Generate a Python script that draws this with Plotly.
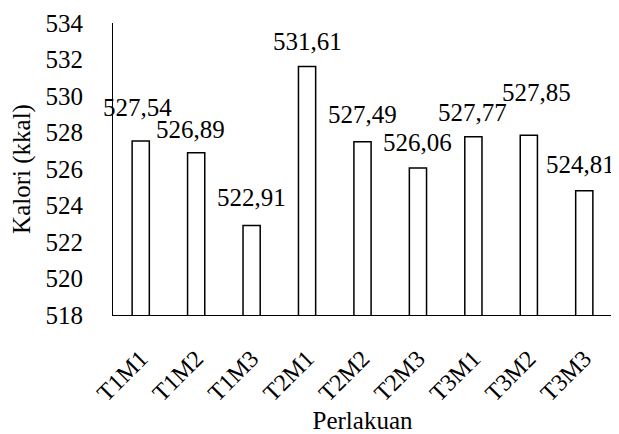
import plotly.graph_objects as go

categories = ["T1M1", "T1M2", "T1M3", "T2M1", "T2M2", "T2M3", "T3M1", "T3M2", "T3M3"]
values = [527.54, 526.89, 522.91, 531.61, 527.49, 526.06, 527.77, 527.85, 524.81]
labels = ["527,54", "526,89", "522,91", "531,61", "527,49", "526,06", "527,77", "527,85", "524,81"]
y_ticks = [518, 520, 522, 524, 526, 528, 530, 532, 534]

# label offsets (style only, in pixels)
label_dx = [-3, -6, 0, 0, 0, 0, -1, 8, -4]
label_dy = [33, 23, 28, 25, 27, 25, 24, 43, 26]

FONT = "Liberation Serif"

fig = go.Figure()
fig.add_trace(go.Bar(
    x=categories, y=values,
    width=0.31,
    marker=dict(color="white", line=dict(color="black", width=1.5)),
))

for c, v, t, dx, dy in zip(categories, values, labels, label_dx, label_dy):
    fig.add_annotation(x=c, y=v, text=t, showarrow=False, xshift=dx, yshift=dy,
                       font=dict(family=FONT, size=25, color="black"))

# page body has an 8px default margin, so the figure is sized/offset to compensate
fig.update_layout(
    width=611, height=426,
    margin=dict(l=105, r=7, t=15, b=119),
    plot_bgcolor="white", paper_bgcolor="white",
    showlegend=False,
    font=dict(family=FONT, size=25, color="black"),
)
fig.update_yaxes(
    range=[518, 534], tickvals=y_ticks, ticktext=[str(v) for v in y_ticks],
    showgrid=False, zeroline=False, automargin=False,
    showline=True, linecolor="black", linewidth=1,
    ticks="", ticklabelstandoff=24,
    tickfont=dict(family=FONT, size=25),
    title=dict(text="Kalori (kkal)", font=dict(family=FONT, size=25), standoff=16),
)
fig.update_xaxes(
    range=[-0.5, len(categories) - 0.5],
    showgrid=False, zeroline=False, automargin=False,
    showline=True, linecolor="black", linewidth=1,
    ticks="", tickangle=-45, ticklabelstandoff=19,
    tickfont=dict(family=FONT, size=24),
    title=dict(text="Perlakuan", font=dict(family=FONT, size=25), standoff=20),
)

fig.write_html("out.html")
